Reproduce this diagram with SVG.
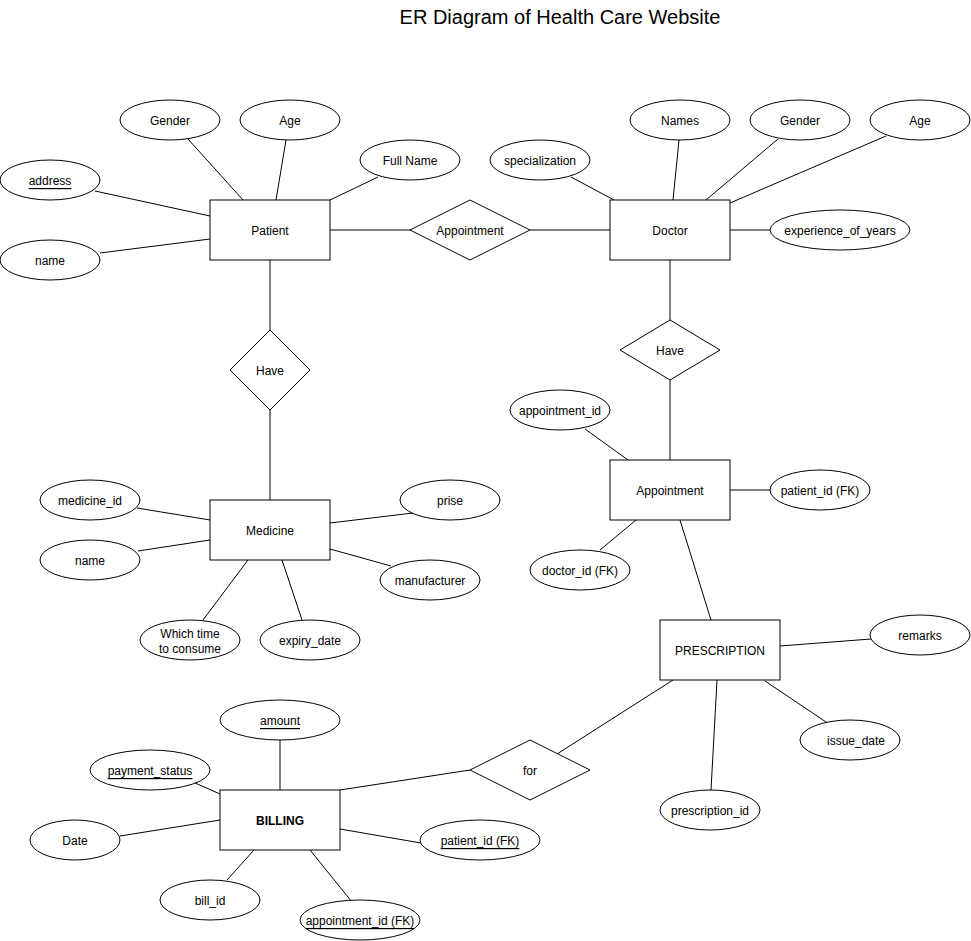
<svg xmlns="http://www.w3.org/2000/svg" width="971" height="941" viewBox="0 0 971 941">
<style>
.e{fill:#fff;stroke:#000;stroke-width:1}
.t{font-family:"Liberation Sans",Arial,sans-serif;font-size:12px;fill:#000;text-anchor:middle;dominant-baseline:central}
.u{text-decoration:underline}
.b{font-weight:bold}
.c line{stroke:#000;stroke-width:1}
</style>
<rect width="971" height="941" fill="#fff"/>
<text x="560" y="17" style="font-family:'Liberation Sans',Arial,sans-serif;font-size:20px;text-anchor:middle;dominant-baseline:central">ER Diagram of Health Care Website</text>
<g id="connectors" class="c">
<line x1="188" y1="139" x2="243" y2="200"/>
<line x1="286" y1="140" x2="276" y2="200"/>
<line x1="378" y1="177" x2="330" y2="200"/>
<line x1="95" y1="191" x2="210" y2="216"/>
<line x1="100" y1="253" x2="210" y2="239"/>
<line x1="330" y1="230" x2="410" y2="230"/>
<line x1="530" y1="230" x2="610" y2="230"/>
<line x1="270" y1="260" x2="270" y2="330"/>
<line x1="270" y1="410" x2="270" y2="500"/>
<line x1="571" y1="177" x2="614" y2="200"/>
<line x1="679" y1="140" x2="673" y2="200"/>
<line x1="778" y1="139" x2="706" y2="200"/>
<line x1="886" y1="136" x2="730" y2="203"/>
<line x1="730" y1="230" x2="770" y2="230"/>
<line x1="670" y1="260" x2="670" y2="320"/>
<line x1="670" y1="380" x2="670" y2="460"/>
<line x1="585" y1="429" x2="628" y2="460"/>
<line x1="730" y1="490" x2="770" y2="490"/>
<line x1="600" y1="550" x2="636" y2="520"/>
<line x1="680" y1="520" x2="711" y2="620"/>
<line x1="780" y1="646" x2="871" y2="639"/>
<line x1="765" y1="681" x2="826" y2="722"/>
<line x1="717" y1="680" x2="711" y2="790"/>
<line x1="673" y1="680" x2="557" y2="754"/>
<line x1="470" y1="770" x2="340" y2="790"/>
<line x1="280" y1="740" x2="280" y2="790"/>
<line x1="193" y1="782" x2="220" y2="794"/>
<line x1="120" y1="836" x2="220" y2="820"/>
<line x1="227" y1="880" x2="254" y2="850"/>
<line x1="340" y1="829" x2="421" y2="843"/>
<line x1="352" y1="902" x2="310" y2="850"/>
<line x1="137" y1="508" x2="210" y2="520"/>
<line x1="138" y1="551" x2="210" y2="540"/>
<line x1="413" y1="513" x2="330" y2="523"/>
<line x1="391" y1="566" x2="330" y2="549"/>
<line x1="203" y1="620" x2="248" y2="560"/>
<line x1="302" y1="620" x2="282" y2="560"/>
</g>
<g id="patient"><rect class="e" x="210" y="200" width="120" height="60"/><text class="t" x="270" y="231">Patient</text></g>
<g id="doctor"><rect class="e" x="610" y="200" width="120" height="60"/><text class="t" x="670" y="231">Doctor</text></g>
<g id="rel-appointment"><polygon class="e" points="470,200 530,230 470,260 410,230"/><text class="t" x="470" y="231">Appointment</text></g>
<g id="rel-have-left"><polygon class="e" points="270,330 310,370 270,410 230,370"/><text class="t" x="270" y="371">Have</text></g>
<g id="rel-have-right"><polygon class="e" points="670,320 720,350 670,380 620,350"/><text class="t" x="670" y="351">Have</text></g>
<g id="medicine"><rect class="e" x="210" y="500" width="120" height="60"/><text class="t" x="270" y="531">Medicine</text></g>
<g id="appointment"><rect class="e" x="610" y="460" width="120" height="60"/><text class="t" x="670" y="491">Appointment</text></g>
<g id="prescription"><rect class="e" x="660" y="620" width="120" height="60"/><text class="t" x="720" y="651">PRESCRIPTION</text></g>
<g id="billing"><rect class="e" x="220" y="790" width="120" height="60"/><text class="t b" x="280" y="821">BILLING</text></g>
<g id="rel-for"><polygon class="e" points="530,740 590,770 530,800 470,770"/><text class="t" x="530" y="771">for</text></g>

<g id="a-p-gender"><ellipse class="e" cx="170" cy="120" rx="50" ry="20"/><text class="t" x="170" y="121">Gender</text></g>
<g id="a-p-age"><ellipse class="e" cx="290" cy="120" rx="50" ry="20"/><text class="t" x="290" y="121">Age</text></g>
<g id="a-p-fullname"><ellipse class="e" cx="410" cy="160" rx="50" ry="20"/><text class="t" x="410" y="161">Full Name</text></g>
<g id="a-p-address"><ellipse class="e" cx="50" cy="180" rx="50" ry="20"/><text class="t u" x="50" y="181">address</text></g>
<g id="a-p-name"><ellipse class="e" cx="50" cy="260" rx="50" ry="20"/><text class="t" x="50" y="261">name</text></g>

<g id="a-d-spec"><ellipse class="e" cx="540" cy="160" rx="50" ry="20"/><text class="t" x="540" y="161">specialization</text></g>
<g id="a-d-names"><ellipse class="e" cx="680" cy="120" rx="50" ry="20"/><text class="t" x="680" y="121">Names</text></g>
<g id="a-d-gender"><ellipse class="e" cx="800" cy="120" rx="50" ry="20"/><text class="t" x="800" y="121">Gender</text></g>
<g id="a-d-age"><ellipse class="e" cx="920" cy="120" rx="50" ry="20"/><text class="t" x="920" y="121">Age</text></g>
<g id="a-d-exp"><ellipse class="e" cx="840" cy="230" rx="70" ry="20"/><text class="t" x="840" y="231">experience_of_years</text></g>

<g id="a-m-id"><ellipse class="e" cx="90" cy="500" rx="50" ry="20"/><text class="t" x="90" y="501">medicine_id</text></g>
<g id="a-m-name"><ellipse class="e" cx="90" cy="560" rx="50" ry="20"/><text class="t" x="90" y="561">name</text></g>
<g id="a-m-prise"><ellipse class="e" cx="450" cy="500" rx="50" ry="20"/><text class="t" x="450" y="501">prise</text></g>
<g id="a-m-manu"><ellipse class="e" cx="430" cy="580" rx="50" ry="20"/><text class="t" x="430" y="581">manufacturer</text></g>
<g id="a-m-time"><ellipse class="e" cx="190" cy="640" rx="50" ry="20"/><text class="t" x="190" y="634">Which time</text><text class="t" x="190" y="649">to consume</text></g>
<g id="a-m-expiry"><ellipse class="e" cx="310" cy="640" rx="50" ry="20"/><text class="t" x="310" y="641">expiry_date</text></g>

<g id="a-a-id"><ellipse class="e" cx="560" cy="410" rx="50" ry="20"/><text class="t" x="560" y="411">appointment_id</text></g>
<g id="a-a-pid"><ellipse class="e" cx="820" cy="490" rx="50" ry="20"/><text class="t" x="820" y="491">patient_id (FK)</text></g>
<g id="a-a-did"><ellipse class="e" cx="580" cy="570" rx="50" ry="20"/><text class="t" x="580" y="571">doctor_id (FK)</text></g>

<g id="a-pr-remarks"><ellipse class="e" cx="920" cy="635" rx="50" ry="20"/><text class="t" x="920" y="636">remarks</text></g>
<g id="a-pr-issue"><ellipse class="e" cx="850" cy="740" rx="50" ry="20"/><text class="t" x="856" y="741">issue_date</text></g>
<g id="a-pr-id"><ellipse class="e" cx="710" cy="810" rx="50" ry="20"/><text class="t" x="710" y="811">prescription_id</text></g>

<g id="a-b-amount"><ellipse class="e" cx="280" cy="720" rx="60" ry="20"/><text class="t u" x="280" y="721">amount</text></g>
<g id="a-b-status"><ellipse class="e" cx="150" cy="770" rx="60" ry="20"/><text class="t u" x="150" y="771">payment_status</text></g>
<g id="a-b-date"><ellipse class="e" cx="75" cy="840" rx="45" ry="20"/><text class="t" x="75" y="841">Date</text></g>
<g id="a-b-billid"><ellipse class="e" cx="210" cy="900" rx="50" ry="20"/><text class="t" x="210" y="901">bill_id</text></g>
<g id="a-b-pid"><ellipse class="e" cx="480" cy="840" rx="60" ry="20"/><text class="t u" x="480" y="841">patient_id (FK)</text></g>
<g id="a-b-aid"><ellipse class="e" cx="360" cy="920" rx="60" ry="20"/><text class="t u" x="360" y="921">appointment_id (FK)</text></g>
</svg>
